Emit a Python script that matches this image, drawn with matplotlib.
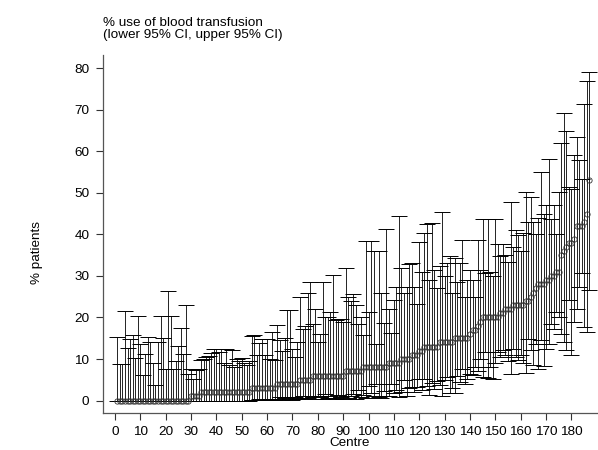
import numpy as np
import matplotlib
matplotlib.use('Agg')
import matplotlib.pyplot as plt

plt.rcParams['font.family'] = ['Liberation Sans', 'DejaVu Sans']

# centres ranked by % use of blood transfusion
centre = list(range(1, 188))

pct = [0, 0, 0, 0, 0, 0, 0, 0, 0, 0,
       0, 0, 0, 0, 0, 0, 0, 0, 0, 0,
       0, 0, 0, 0, 0, 0, 0, 0, 0, 1,
       1, 1, 1, 2, 2, 2, 2, 2, 2, 2,
       2, 2, 2, 2, 2, 2, 2, 2, 2, 2,
       2, 2, 2, 3, 3, 3, 3, 3, 3, 3,
       3, 3, 3, 4, 4, 4, 4, 4, 4, 4,
       4, 4, 5, 5, 5, 5, 5, 6, 6, 6,
       6, 6, 6, 6, 6, 6, 6, 6, 6, 6,
       7, 7, 7, 7, 7, 7, 7, 8, 8, 8,
       8, 8, 8, 8, 8, 8, 8, 9, 9, 9,
       9, 9, 10, 10, 10, 10, 11, 11, 11, 12,
       12, 13, 13, 13, 13, 13, 13, 14, 14, 14,
       14, 14, 14, 15, 15, 15, 15, 15, 15, 16,
       17, 17, 18, 19, 20, 20, 20, 20, 20, 20,
       20, 21, 21, 22, 22, 22, 23, 23, 23, 23,
       23, 24, 24, 25, 26, 27, 28, 28, 28, 29,
       29, 30, 30, 31, 31, 35, 36, 37, 38, 38,
       39, 42, 42, 42, 43, 45, 53]

lower = [0, 0, 0, 0, 0, 0, 0, 0, 0, 0,
         0, 0, 0, 0, 0, 0, 0, 0, 0, 0,
         0, 0, 0, 0, 0, 0, 0, 0, 0, 0,
         0, 0, 0, 0, 0, 0, 0, 0, 0, 0,
         0, 0, 0, 0, 0, 0, 0, 0, 0, 0,
         0, 0, 0, 0.1, 0.2, 0.1, 0.3, 0.1, 0.2, 0.1,
         0.3, 0.2, 0.1, 0.3, 0.8, 0.2, 0.5, 0.9, 0.3, 0.2,
         0.9, 0.4, 0.5, 1.2, 0.3, 0.6, 1.0, 0.8, 0.4, 1.2,
         0.9, 0.3, 1.5, 0.7, 1.1, 0.5, 0.3, 1.3, 0.8, 0.4,
         1.0, 0.6, 1.0, 1.6, 0.4, 2.5, 0.9, 1.3, 0.7, 3.4,
         1.7, 1.0, 4.1, 0.9, 0.7, 2.4, 1.2, 1.0, 4.1, 1.7,
         2.6, 0.8, 2.1, 5.0, 1.0, 3.0, 3.3, 2.0, 3.3, 5.3,
         2.5, 5.3, 3.6, 1.3, 4.2, 2.9, 4.8, 3.7, 1.2, 5.0,
         5.7, 1.7, 3.0, 1.7, 6.0, 4.5, 7.7, 4.0, 5.3, 6.5,
         6.1, 8.1, 7.0, 10.1, 5.7, 11.7, 5.5, 8.0, 5.3, 9.0,
         11.7, 10.5, 12.1, 10.9, 9.5, 6.5, 12.3, 10.5, 9.7, 11.0,
         9.0, 6.7, 14.9, 12.1, 8.5, 13.7, 7.7, 14.5, 8.3, 12.5,
         13.5, 18.5, 17.3, 21.3, 20.1, 16.1, 14.1, 12.1, 24.3, 10.9,
         18.9, 22.1, 27.3, 30.6, 17.7, 16.5, 26.6]

upper = [15.3, 8.7, 8.8, 21.6, 12.6, 14.7, 15.8, 10.3, 20.4, 13.5,
         6.2, 11.3, 15.3, 14.0, 9.1, 3.7, 14.0, 20.4, 15.1, 7.5,
         26.4, 20.4, 7.5, 9.5, 13.1, 17.4, 11.1, 23.1, 6.5, 7.6,
         5.3, 7.3, 7.5, 9.7, 10.1, 10.5, 10.7, 11.5, 12.5, 12.3,
         11.7, 12.3, 9.1, 12.3, 8.5, 12.2, 8.1, 10.1, 9.5, 10.3,
         9.0, 8.5, 9.6, 15.5, 15.7, 10.9, 13.9, 14.7, 11.0, 14.7,
         10.0, 16.5, 9.7, 18.1, 14.5, 12.0, 15.0, 21.7, 21.7, 12.5,
         10.5, 14.0, 24.9, 17.3, 18.0, 25.8, 28.6, 18.5, 22.0, 14.1,
         16.0, 28.5, 20.0, 20.0, 21.3, 30.2, 19.3, 19.7, 19.7, 18.9,
         31.8, 24.9, 24.0, 25.6, 23.0, 18.5, 20.0, 15.7, 38.4, 21.2,
         38.4, 36.0, 13.5, 35.9, 25.9, 18.7, 41.2, 22.0, 16.3, 24.1,
         27.4, 44.4, 31.8, 25.8, 27.4, 32.8, 33.1, 27.4, 23.2, 38.2,
         31.0, 40.3, 42.4, 29.0, 42.8, 31.4, 27.2, 32.3, 45.4, 30.0,
         33.0, 34.7, 25.8, 34.4, 28.6, 33.0, 38.7, 24.9, 29.0, 31.4,
         29.0, 24.9, 38.7, 31.4, 43.6, 30.6, 43.6, 31.0, 30.0, 43.6,
         37.6, 34.7, 37.8, 35.0, 33.4, 47.8, 37.0, 41.0, 39.8, 36.0,
         40.3, 50.1, 43.0, 49.0, 43.0, 40.0, 44.0, 55.0, 45.0, 47.0,
         58.1, 43.8, 47.0, 40.0, 50.2, 61.9, 69.3, 64.8, 51.4, 50.9,
         59.2, 63.5, 57.8, 53.4, 71.3, 76.9, 79.0]

x_ticks = list(range(0, 181, 10))
y_ticks = list(range(0, 81, 10))

pct = np.array(pct)
lower = np.array(lower)
upper = np.array(upper)

fig = plt.figure(figsize=(5.98, 4.5), dpi=100)
ax = fig.add_axes([0.1717, 0.0822, 0.8263, 0.7956])

ax.errorbar(centre, pct, yerr=[pct - lower, upper - pct], fmt='none',
            ecolor='black', elinewidth=0.6, capsize=5.5, capthick=0.7, zorder=2)
ax.plot(centre, pct, 'o', ms=3.8, mfc='none', mec='#333333', mew=0.6, zorder=3)

ax.set_xlim(-4.8, 190)
ax.set_ylim(-3, 83.2)
ax.set_xticks(x_ticks)
ax.set_yticks(y_ticks)

for s in ['top', 'right']:
    ax.spines[s].set_visible(False)
for s in ['left', 'bottom']:
    ax.spines[s].set_color('#555555')
    ax.spines[s].set_linewidth(0.9)
ax.tick_params(axis='both', direction='out', length=5, width=0.8,
               color='#333333', labelsize=9.7, pad=4.5)

ax.set_xlabel('Centre', fontsize=9.7, labelpad=-1)
ax.set_ylabel('% patients', fontsize=9.7)
ax.yaxis.set_label_coords(-0.12, 0.447)

fig.text(103 / 598, 1 - 17 / 450, '% use of blood transfusion\n(lower 95% CI, upper 95% CI)',
         ha='left', va='top', fontsize=9.7, linespacing=1.0)

fig.savefig('out.png', dpi=100)
